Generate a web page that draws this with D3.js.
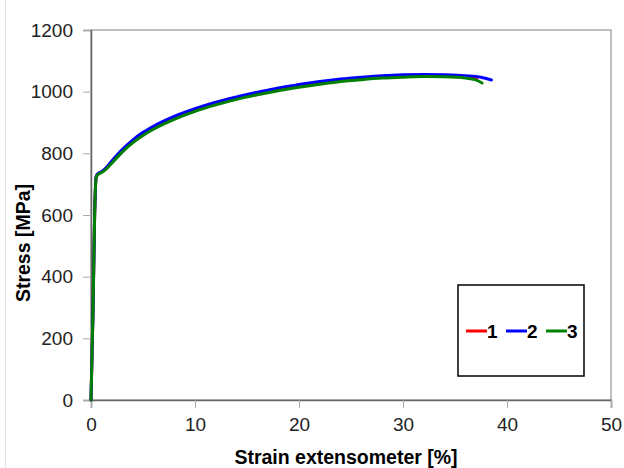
<!DOCTYPE html>
<html>
<head>
<meta charset="utf-8">
<script src="https://cdn.jsdelivr.net/npm/d3@7"></script>
<style>
  body { margin: 0; background: #fff; }
  svg { font-family: "Liberation Sans", Arial, sans-serif; }
</style>
</head>
<body>
<svg width="624" height="468"></svg>
<script>
// strain [%] / stress [MPa]
const strain1 = [0, 0.2, 0.35, 0.5, 0.7, 1, 1.5, 2, 3, 4, 5, 6, 8, 10, 12, 14, 16, 18, 20, 22, 24, 26, 28, 30, 32, 34, 36, 37.1];
const stress1 = [0, 300, 600, 724, 734, 739, 753, 772, 808, 839, 864, 884, 915, 941, 962, 979, 994, 1008, 1019, 1029, 1037, 1043, 1048, 1051, 1052, 1051, 1048, 1041];

const strain2 = [0, 0.2, 0.35, 0.5, 0.7, 1, 1.5, 2, 3, 4, 5, 6, 8, 10, 12, 14, 16, 18, 20, 22, 24, 26, 28, 30, 32, 34, 36, 37.5, 38.5];
const stress2 = [0, 300, 600, 725, 735, 740, 755, 775, 812, 843, 868, 888, 920, 945, 966, 983, 998, 1012, 1023, 1033, 1041, 1047, 1052, 1055, 1056, 1055, 1052, 1047, 1038];

const strain3 = [0, 0.2, 0.35, 0.5, 0.7, 1, 1.5, 2, 3, 4, 5, 6, 8, 10, 12, 14, 16, 18, 20, 22, 24, 26, 28, 30, 32, 34, 36, 37, 37.6];
const stress3 = [0, 300, 600, 722, 732, 737, 750, 768, 804, 834, 858, 878, 910, 936, 957, 975, 990, 1003, 1014, 1024, 1033, 1039, 1044, 1047, 1049, 1048, 1044, 1038, 1028];

const seriesNames = ["1", "2", "3"];
const seriesColors = ["#ff0000", "#0000ff", "#008000"];

const xTicks = [0, 10, 20, 30, 40, 50];
const yTicks = [0, 200, 400, 600, 800, 1000, 1200];

const series = [
  strain1.map((s, i) => [s, stress1[i]]),
  strain2.map((s, i) => [s, stress2[i]]),
  strain3.map((s, i) => [s, stress3[i]])
];

const margin = {top: 30, right: 13, bottom: 68, left: 91};
const width = 624 - margin.left - margin.right;
const height = 468 - margin.top - margin.bottom;

const svg = d3.select("svg");

// faint image frame at the left
svg.append("line")
    .attr("x1", 5.5).attr("x2", 5.5)
    .attr("y1", 0).attr("y2", 468)
    .attr("stroke", "#e4e4e4");

const g = svg.append("g").attr("transform", "translate(" + margin.left + "," + margin.top + ")");

const x = d3.scaleLinear().domain([0, 50]).range([0, width]);
const y = d3.scaleLinear().domain([0, 1200]).range([height, 0]);

// plot frame
g.append("rect")
    .attr("x", 0).attr("y", 0)
    .attr("width", width).attr("height", height)
    .attr("fill", "none")
    .attr("stroke", "#808080")
    .attr("stroke-width", 1);

const xAxis = g.append("g")
    .attr("transform", "translate(0," + height + ")")
    .call(d3.axisBottom(x).tickValues(xTicks).tickFormat(d3.format("d")).tickSize(8).tickPadding(10));

const yAxis = g.append("g")
    .call(d3.axisLeft(y).tickValues(yTicks).tickFormat(d3.format("d")).tickSize(8).tickPadding(10));

[xAxis, yAxis].forEach(a => {
  a.attr("font-size", 19).attr("font-family", "Liberation Sans, Arial, sans-serif");
  a.select(".domain").attr("stroke", "#666").attr("stroke-width", 1.5);
  a.selectAll(".tick line").attr("stroke", "#aaa");
  a.selectAll(".tick text").attr("fill", "#222");
});

const line = d3.line()
    .x(d => x(d[0]))
    .y(d => y(d[1]))
    .curve(d3.curveMonotoneX);

g.selectAll(".curve")
    .data(series)
    .enter().append("path")
    .attr("class", "curve")
    .attr("d", line)
    .attr("fill", "none")
    .attr("stroke", (d, i) => seriesColors[i])
    .attr("stroke-width", 3)
    .attr("stroke-linecap", "round")
    .attr("stroke-linejoin", "round");

// axis titles
svg.append("text")
    .attr("x", 346)
    .attr("y", 464)
    .attr("text-anchor", "middle")
    .attr("font-size", 19.5)
    .attr("font-weight", "bold")
    .text("Strain extensometer [%]");

svg.append("text")
    .attr("transform", "translate(30,243) rotate(-90)")
    .attr("text-anchor", "middle")
    .attr("font-size", 19.5)
    .attr("font-weight", "bold")
    .text("Stress [MPa]");

// legend
const legend = svg.append("g").attr("transform", "translate(458,285)");
legend.append("rect")
    .attr("width", 126).attr("height", 91)
    .attr("fill", "#fff")
    .attr("stroke", "#000")
    .attr("stroke-width", 1.5);

const item = legend.selectAll(".item")
    .data(seriesNames)
    .enter().append("g")
    .attr("class", "item")
    .attr("transform", (d, i) => "translate(" + (8 + i * 40) + ",46)");

item.append("line")
    .attr("x1", 0).attr("x2", 21)
    .attr("stroke", (d, i) => seriesColors[i])
    .attr("stroke-width", 3);

item.append("text")
    .attr("x", 21)
    .attr("dy", "0.36em")
    .attr("font-size", 19)
    .attr("font-weight", "bold")
    .text(d => d);
</script>
</body>
</html>
